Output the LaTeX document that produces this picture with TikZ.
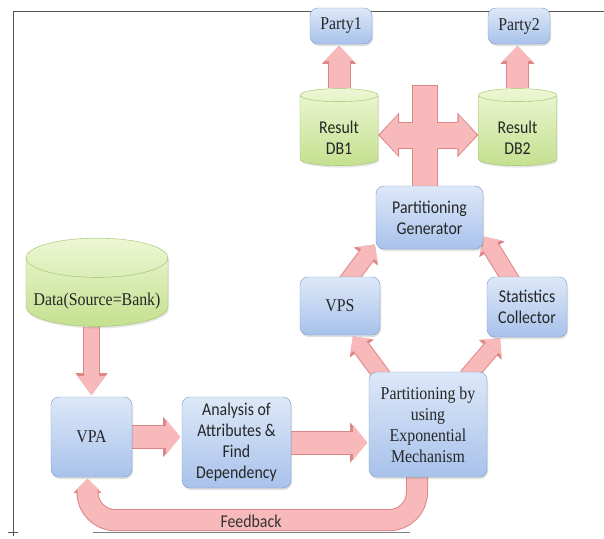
\documentclass[tikz,border=0pt]{standalone}
\usepackage{fontspec}
\setmainfont{Liberation Serif}[FakeStretch=0.88]
\newfontfamily\calibri{Carlito}[FakeStretch=0.88]
\usetikzlibrary{shapes.geometric,arrows.meta,shadows,backgrounds}

\definecolor{boxtop}{HTML}{DDE8F8}
\definecolor{boxbottom}{HTML}{A8C2EB}
\definecolor{boxedge}{HTML}{7E9BC9}
\definecolor{dbtop}{HTML}{EDF7D4}
\definecolor{dbbottom}{HTML}{C4E08F}
\definecolor{dbedge}{HTML}{9DBE63}
\definecolor{arrowfill}{HTML}{F7B9B9}
\definecolor{arrowedge}{HTML}{DD8686}
\definecolor{framegray}{HTML}{555555}

\begin{document}
\begin{tikzpicture}[x=1pt, y=-1pt]
        \tikzset{
            box/.style={rectangle, rounded corners=8pt, draw=boxedge, top color=boxtop, bottom color=boxbottom,
                align=center, inner sep=2pt, text=black!85, font=\fontsize{18}{21}\selectfont,
                drop shadow={opacity=0.25, shadow xshift=1pt, shadow yshift=-2pt}},
            sansbox/.style={box, font=\calibri\fontsize{18}{21}\selectfont},
            db/.style={cylinder, shape border rotate=90, aspect=0.3, draw=dbedge, top color=dbtop, bottom color=dbbottom,
                align=center, inner sep=2pt, text=black!85,
                drop shadow={opacity=0.2, shadow xshift=1pt, shadow yshift=-2pt}},
            rim/.style n args={3}{draw=arrowedge, line width=#1+2pt, -{Triangle[length=#3, width=#2, line width=0pt]}},
            core/.style n args={3}{draw=arrowfill, line width=#1, shorten >=1.6pt, -{Triangle[length=#3-3pt, width=#2-5pt, line width=0pt]}},
            fat/.style n args={3}{preaction={rim={#1}{#2}{#3}}, core={#1}{#2}{#3}}
        }
        \useasboundingbox (0,0) rectangle (604,538);

        % frame
        \draw[framegray] (13,536) -- (13,11) -- (604,11);
        \draw[framegray] (8,532) -- (18,532);
        \draw[gray] (93,532) -- (410,532);

        \node[box, minimum width=62pt, minimum height=36pt] (party1) at (341,26) {Party1};
        \node[box, minimum width=62pt, minimum height=36pt] (party2) at (519,26) {Party2};

        \node[db, font=\calibri\fontsize{18}{21}\selectfont, minimum width=78pt, minimum height=77pt] (db1) at (339,131.5) {\rule{0pt}{24pt}Result\\DB1};
        \node[db, font=\calibri\fontsize{18}{21}\selectfont, minimum width=78pt, minimum height=77pt] (db2) at (517.5,131.5) {\rule{0pt}{24pt}Result\\DB2};

        \node[sansbox, minimum width=107pt, minimum height=63pt] (gen) at (429.5,217.5) {Partitioning\\Generator};
        \node[box, minimum width=80pt, minimum height=58pt] (vps) at (340,306) {VPS};
        \node[sansbox, minimum width=80pt, minimum height=60pt] (stats) at (527,307) {Statistics\\Collector};

        \node[db, font=\fontsize{18}{21}\selectfont, minimum width=142pt, minimum height=83pt] (data) at (97,294.5) {\rule{0pt}{26pt}Data(Source=Bank)};

        \node[box, minimum width=81pt, minimum height=80pt] (vpa) at (91.5,437) {VPA};
        \node[sansbox, minimum width=109pt, minimum height=91pt] (analysis) at (236.5,442.5) {Analysis of\\Attributes \&\\Find\\Dependency};
        \node[box, minimum width=118pt, minimum height=105pt] (pe) at (428,424.5) {Partitioning by\\using\\Exponential\\Mechanism};

        \coordinate (hub) at (425,135);
        \coordinate (stemtop) at (425,85);

        \begin{scope}[on background layer]
            \draw[fat={21pt}{34pt}{18pt}] (db1.north) -- (db1.north |- party1.south);
            \draw[fat={21pt}{34pt}{18pt}] (db2.north) -- (db2.north |- party2.south);

            % cross between the two result stores
            \draw[draw=arrowedge, line width=26pt] (gen.center -| hub) -- (stemtop);
            \draw[rim={25pt}{45pt}{21pt}] (hub) -- (hub -| db1.east);
            \draw[rim={25pt}{45pt}{21pt}] (hub) -- (hub -| db2.west);
            \draw[draw=arrowfill, line width=24pt, shorten >=1pt] (gen.center -| hub) -- (stemtop);
            \draw[core={25pt}{45pt}{21pt}] (hub) -- (hub -| db1.east);
            \draw[core={25pt}{45pt}{21pt}] (hub) -- (hub -| db2.west);

            \draw[fat={15pt}{32pt}{22pt}] (vpa.north |- data.south) -- (vpa.north);
            \draw[fat={22pt}{40pt}{17pt}] (vpa.center) -- (vpa.center -| analysis.west);
            \draw[fat={22pt}{40pt}{17pt}] (analysis.center) -- (analysis.center -| pe.west);

            \draw[fat={16pt}{30pt}{15pt}] ([xshift=14pt,yshift=-5pt]pe.north west) -- ([xshift=12pt]vps.south);
            \draw[fat={16pt}{30pt}{15pt}] ([xshift=-20pt,yshift=-5pt]pe.north east) -- ([xshift=-26pt]stats.south);
            \draw[fat={16pt}{30pt}{15pt}] ([xshift=7pt,yshift=-5pt]vps.north) -- ([yshift=6pt]gen.south west);
            \draw[fat={16pt}{30pt}{15pt}] ([xshift=-15pt,yshift=-5pt]stats.north) -- ([yshift=14pt]gen.south east);

            % feedback loop
            \draw[fat={20pt}{28pt}{14pt}, rounded corners=28pt] ([xshift=-11pt,yshift=5pt]pe.south) -- ++(0,48) -| ([xshift=-4pt]vpa.south);
        \end{scope}

        \node[font=\calibri\fontsize{18}{21}\selectfont, text=black!80] (fblabel) at (251,521) {Feedback};
\end{tikzpicture}
\end{document}
